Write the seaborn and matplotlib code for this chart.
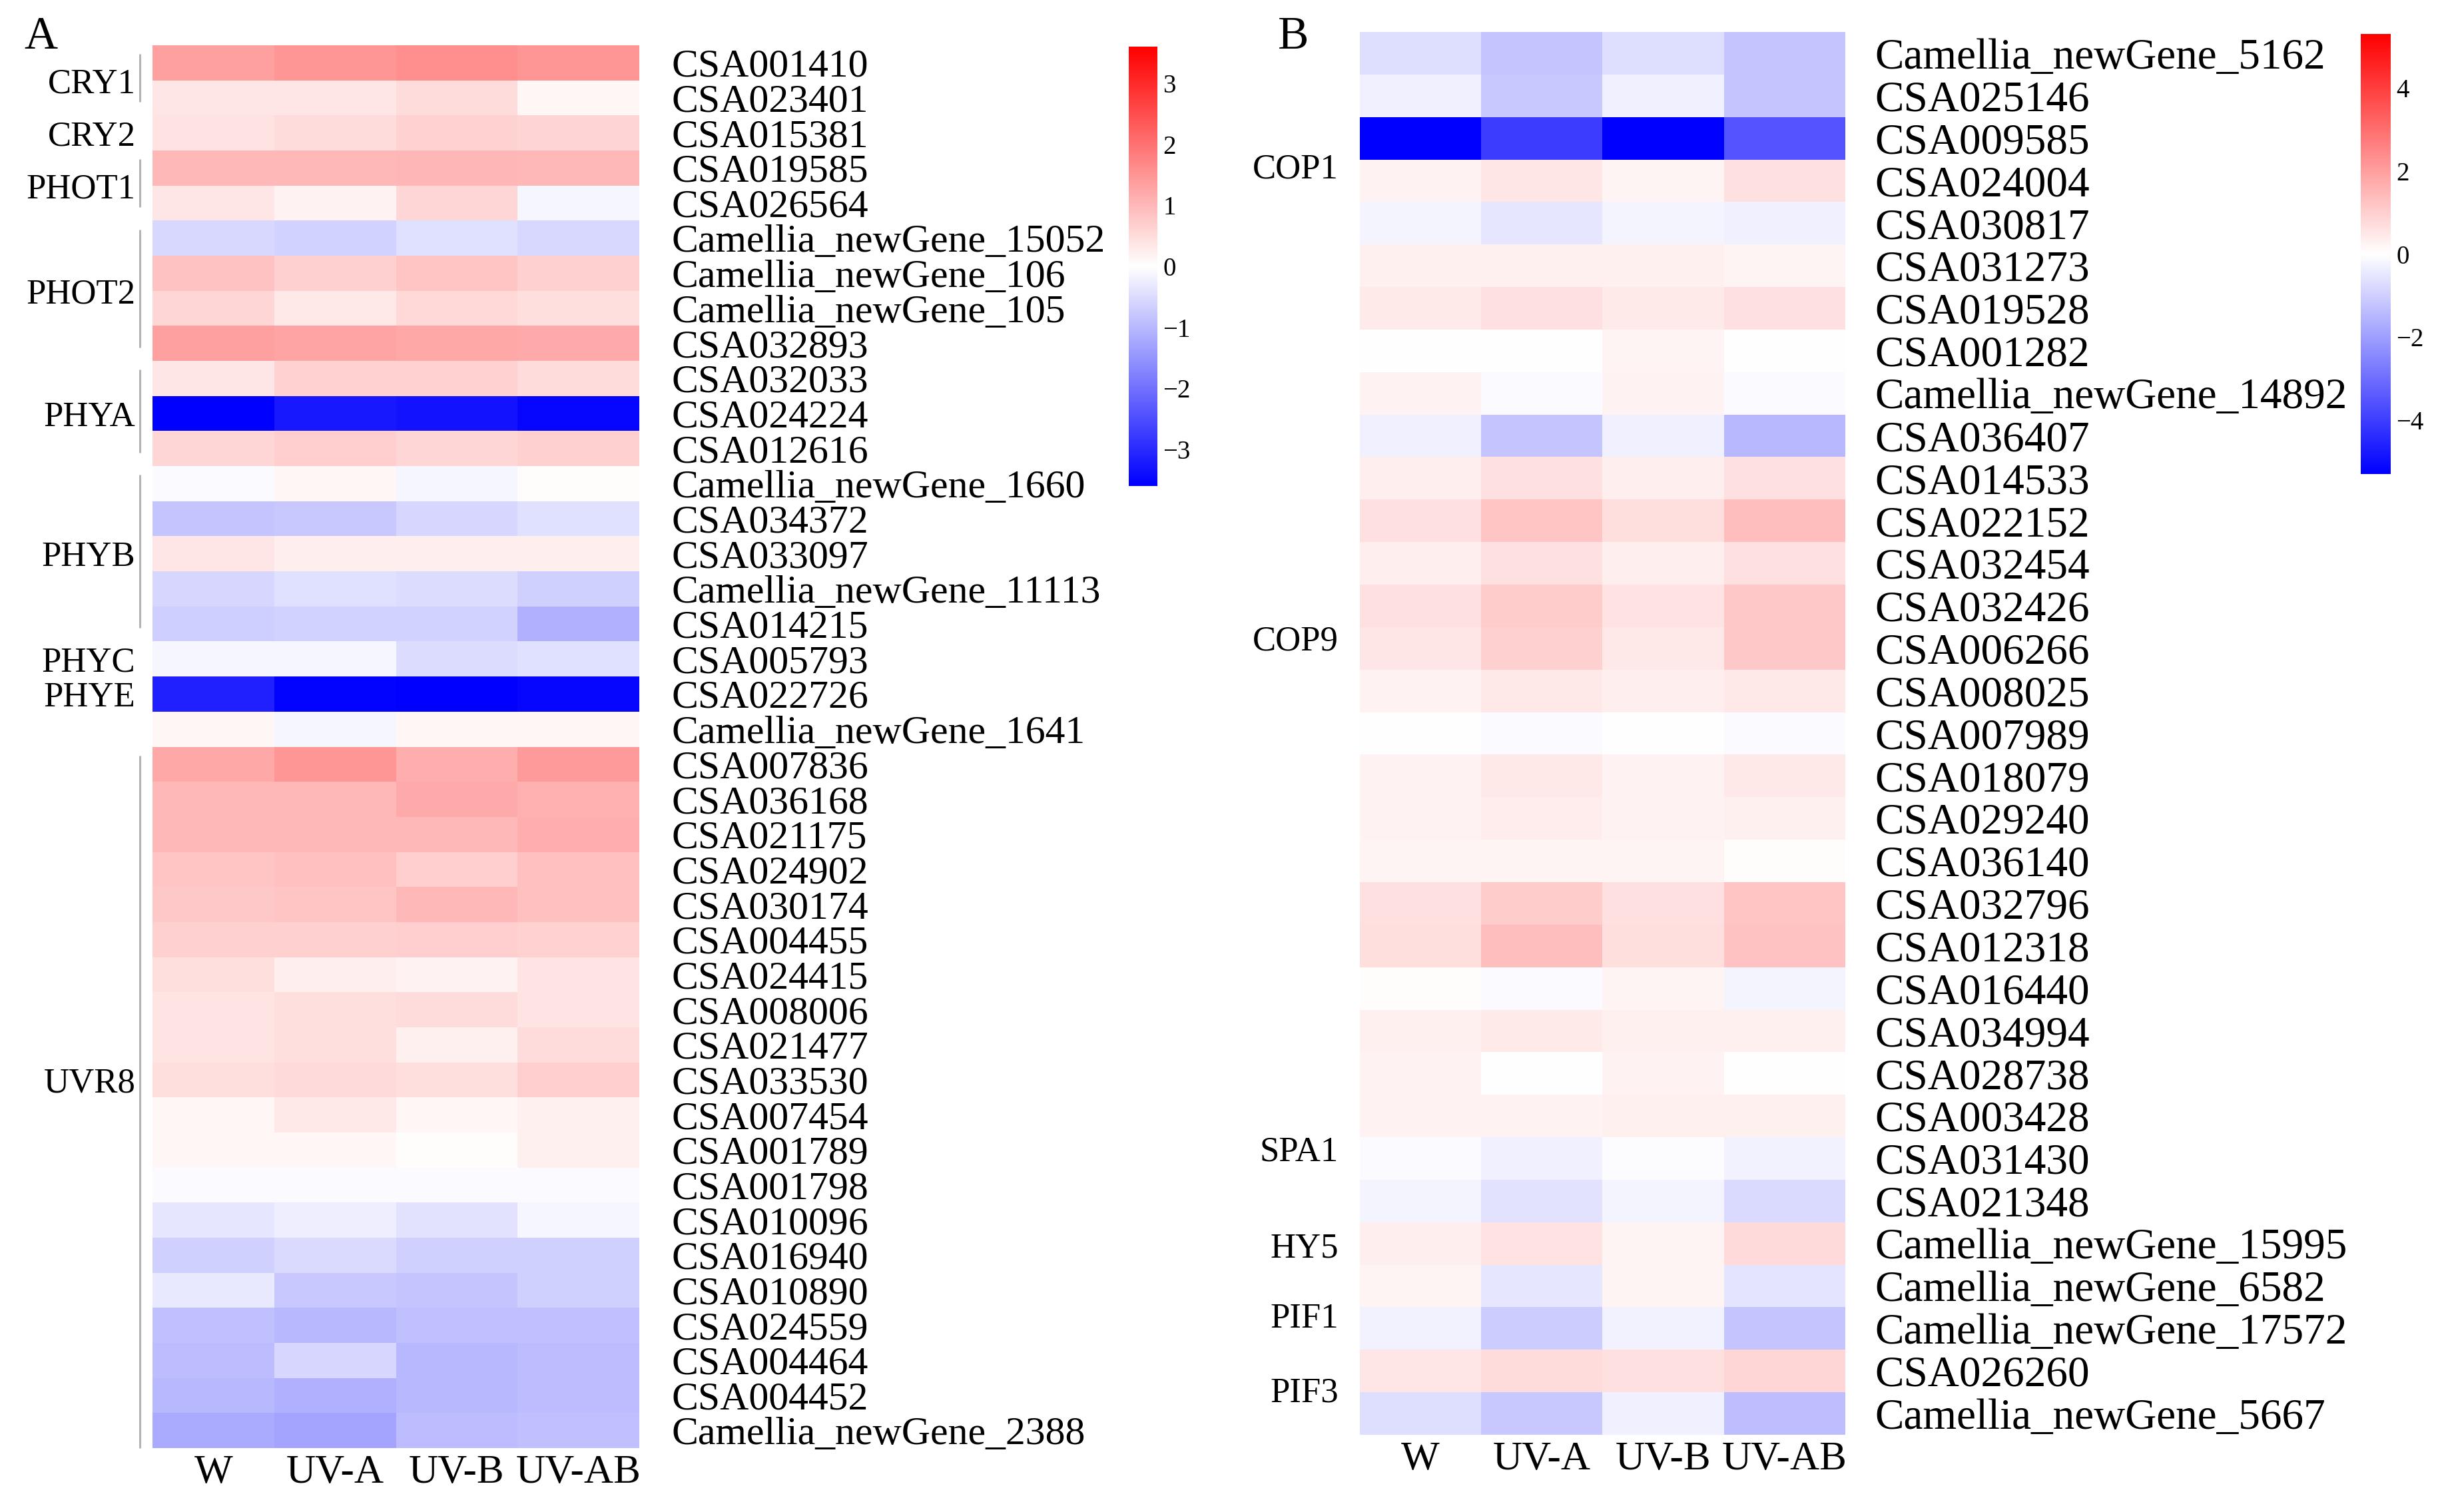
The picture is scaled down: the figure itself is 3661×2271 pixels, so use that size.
import numpy as np
import pandas as pd
import matplotlib
matplotlib.use("Agg")
import matplotlib.pyplot as plt
import seaborn as sns
from matplotlib.transforms import blended_transform_factory

# ---------------- data ----------------
conditions = ["W", "UV-A", "UV-B", "UV-AB"]

genes_a = ["CSA001410", "CSA023401", "CSA015381", "CSA019585", "CSA026564",
           "Camellia_newGene_15052", "Camellia_newGene_106", "Camellia_newGene_105",
           "CSA032893", "CSA032033", "CSA024224", "CSA012616",
           "Camellia_newGene_1660", "CSA034372", "CSA033097",
           "Camellia_newGene_11113", "CSA014215", "CSA005793", "CSA022726",
           "Camellia_newGene_1641", "CSA007836", "CSA036168", "CSA021175",
           "CSA024902", "CSA030174", "CSA004455", "CSA024415", "CSA008006",
           "CSA021477", "CSA033530", "CSA007454", "CSA001789", "CSA001798",
           "CSA010096", "CSA016940", "CSA010890", "CSA024559", "CSA004464",
           "CSA004452", "Camellia_newGene_2388"]
w_a = [1.34, 0.35, 0.42, 1.00, 0.35, -0.55, 0.86, 0.58, 1.34, 0.35,
       -3.70, 0.58, -0.07, -0.83, 0.35, -0.58, -0.70, -0.14, -3.15, 0.14,
       1.23, 1.00, 1.00, 0.83, 0.77, 0.67, 0.45, 0.38, 0.38, 0.45,
       0.14, 0.14, -0.07, -0.35, -0.65, -0.31, -0.89, -0.94, -1.00, -1.20]
uva_a = [1.48, 0.35, 0.49, 1.00, 0.18, -0.64, 0.67, 0.31, 1.27, 0.64,
         -3.26, 0.70, 0.14, -0.77, 0.24, -0.44, -0.64, -0.14, -3.55, -0.14,
         1.48, 1.00, 1.00, 0.89, 0.83, 0.67, 0.24, 0.45, 0.45, 0.52,
         0.31, 0.14, -0.07, -0.24, -0.52, -0.77, -1.00, -0.58, -1.10, -1.28]
uvb_a = [1.58, 0.49, 0.64, 1.04, 0.58, -0.44, 0.83, 0.55, 1.23, 0.64,
         -3.32, 0.58, -0.14, -0.58, 0.24, -0.49, -0.64, -0.49, -3.60, 0.14,
         1.14, 1.20, 1.00, 0.70, 1.00, 0.70, 0.18, 0.49, 0.21, 0.45,
         0.14, 0.03, -0.07, -0.40, -0.67, -0.83, -0.89, -1.00, -1.00, -0.94]
uvab_a = [1.48, 0.14, 0.60, 1.00, -0.14, -0.55, 0.67, 0.45, 1.20, 0.49,
          -3.50, 0.67, 0.03, -0.44, 0.24, -0.67, -1.12, -0.44, -3.50, 0.14,
          1.42, 1.12, 1.14, 0.89, 0.89, 0.64, 0.38, 0.38, 0.49, 0.70,
          0.21, 0.21, -0.07, -0.14, -0.67, -0.67, -0.89, -0.94, -0.94, -0.89]

# families of panel A: name, first row, last row
groups_a = [("CRY1", 0, 1), ("CRY2", 2, 2), ("PHOT1", 3, 4), ("PHOT2", 5, 8),
            ("PHYA", 9, 11), ("PHYB", 12, 16), ("PHYC", 17, 17),
            ("PHYE", 18, 18), ("UVR8", 20, 39)]

genes_b = ["Camellia_newGene_5162", "CSA025146", "CSA009585", "CSA024004",
           "CSA030817", "CSA031273", "CSA019528", "CSA001282",
           "Camellia_newGene_14892", "CSA036407", "CSA014533", "CSA022152",
           "CSA032454", "CSA032426", "CSA006266", "CSA008025", "CSA007989",
           "CSA018079", "CSA029240", "CSA036140", "CSA032796", "CSA012318",
           "CSA016440", "CSA034994", "CSA028738", "CSA003428", "CSA031430",
           "CSA021348", "Camellia_newGene_15995", "Camellia_newGene_6582",
           "Camellia_newGene_17572", "CSA026260", "Camellia_newGene_5667"]
w_b = [-0.69, -0.31, -5.40, 0.27, -0.21, 0.31, 0.44, 0.04, 0.27, -0.31,
       0.35, 0.64, 0.35, 0.64, 0.52, 0.27, 0.02, 0.27, 0.27, 0.21,
       0.64, 0.67, 0.05, 0.30, 0.25, 0.25, -0.10, -0.21, 0.35, 0.21,
       -0.27, 0.52, -0.69]
uva_b = [-1.23, -1.14, -4.05, 0.52, -0.52, 0.31, 0.64, 0.04, -0.10, -1.23,
         0.64, 1.23, 0.64, 1.06, 0.98, 0.48, -0.10, 0.48, 0.40, 0.21,
         1.06, 1.35, -0.10, 0.44, 0.04, 0.25, -0.31, -0.60, 0.60, -0.52,
         -1.06, 0.73, -1.14]
uvb_b = [-0.69, -0.31, -5.40, 0.21, -0.21, 0.31, 0.44, 0.21, 0.27, -0.31,
         0.35, 0.67, 0.35, 0.60, 0.48, 0.35, 0.02, 0.27, 0.27, 0.21,
         0.64, 0.67, 0.21, 0.30, 0.25, 0.33, -0.08, -0.21, 0.21, 0.21,
         -0.27, 0.64, -0.31]
uvab_b = [-1.23, -1.23, -3.53, 0.64, -0.31, 0.21, 0.64, -0.04, -0.10, -1.48,
          0.64, 1.35, 0.64, 1.14, 1.14, 0.48, -0.10, 0.48, 0.30, 0.05,
          1.23, 1.27, -0.21, 0.30, 0.04, 0.30, -0.27, -0.77, 0.77, -0.56,
          -1.23, 0.83, -1.35]

# family labels of panel B: name, label row position
groups_b = [("COP1", 3.15), ("COP9", 14.26), ("SPA1", 26.27), ("HY5", 28.53),
            ("PIF1", 30.19), ("PIF3", 31.94)]

ticks_a = [-3, -2, -1, 0, 1, 2, 3]
ticks_b = [-4, -2, 0, 2, 4]

# ---------------- figure ----------------
sns.set_theme(style="white")
plt.rcParams["font.family"] = ["Liberation Serif", "DejaVu Serif"]
plt.rcParams["axes.unicode_minus"] = True

W, H, DPI = 3662, 2271, 100
fig = plt.figure(figsize=(W / DPI, H / DPI), dpi=DPI)
fig.patch.set_facecolor("white")


def frac(l, t, r, b):
    return [l / W, 1 - b / H, (r - l) / W, (b - t) / H]


ax_a = fig.add_axes(frac(229, 68, 960, 2175))
cax_a = fig.add_axes(frac(1695, 70, 1738, 730))
ax_b = fig.add_axes(frac(2042, 48, 2771, 2155))
cax_b = fig.add_axes(frac(3545, 51, 3590, 712))

df_a = pd.DataFrame({c: v for c, v in zip(conditions, [w_a, uva_a, uvb_a, uvab_a])},
                    index=genes_a)
df_b = pd.DataFrame({c: v for c, v in zip(conditions, [w_b, uva_b, uvb_b, uvab_b])},
                    index=genes_b)

sns.heatmap(df_a, ax=ax_a, cmap="bwr", vmin=-3.6, vmax=3.6, cbar_ax=cax_a,
            xticklabels=True, yticklabels=True, linewidths=0)
sns.heatmap(df_b, ax=ax_b, cmap="bwr", vmin=-5.3, vmax=5.3, cbar_ax=cax_b,
            xticklabels=True, yticklabels=True, linewidths=0)

for ax, pad_y, fs_y in [(ax_a, 35, 43), (ax_b, 32, 47)]:
    ax.set_xlabel("")
    ax.set_ylabel("")
    ax.yaxis.tick_right()
    ax.tick_params(axis="y", length=0, pad=pad_y, labelsize=fs_y,
                   labelright=True, labelleft=False, labelrotation=0,
                   colors="black")
    ax.tick_params(axis="x", length=0, pad=7, labelsize=44, labelrotation=0,
                   colors="black")
    for lab in ax.get_yticklabels():
        lab.set_horizontalalignment("left")
    for s in ax.spines.values():
        s.set_visible(False)

for cax, ticks in [(cax_a, ticks_a), (cax_b, ticks_b)]:
    cax.set_yticks(ticks)
    cax.tick_params(axis="y", length=0, pad=6, labelsize=28, colors="black")
    for s in cax.spines.values():
        s.set_visible(False)

ax_a.collections[0].colorbar.outline.set_visible(False)
ax_b.collections[0].colorbar.outline.set_visible(False)

# family labels and brackets, panel A
tr_a = blended_transform_factory(ax_a.transAxes, ax_a.transData)
for name, r0, r1 in groups_a:
    yc = (r0 + r1 + 1) / 2
    if name == "UVR8":
        yc = 29.5
    ax_a.text(-0.035, yc, name, transform=tr_a, ha="right", va="center_baseline",
              fontsize=38, color="black", clip_on=False)
    if r1 > r0:
        y_end = r1 + 1 if name == "UVR8" else r1 + 0.62
        ax_a.plot([-0.026, -0.026], [r0 + 0.25, y_end], transform=tr_a,
                  color="#b4b4b4", lw=2.2, clip_on=False, solid_capstyle="butt")

# family labels, panel B
tr_b = blended_transform_factory(ax_b.transAxes, ax_b.transData)
for name, yc in groups_b:
    ax_b.text(-0.044, yc, name, transform=tr_b, ha="right", va="center_baseline",
              fontsize=38, color="black", clip_on=False)

# panel letters
fig.text(61 / W, 1 - 56 / H, "A", ha="center", va="center", fontsize=50, color="black")
fig.text(1942 / W, 1 - 56 / H, "B", ha="center", va="center", fontsize=50, color="black")

fig.savefig("out.png", dpi=DPI, facecolor="white")
